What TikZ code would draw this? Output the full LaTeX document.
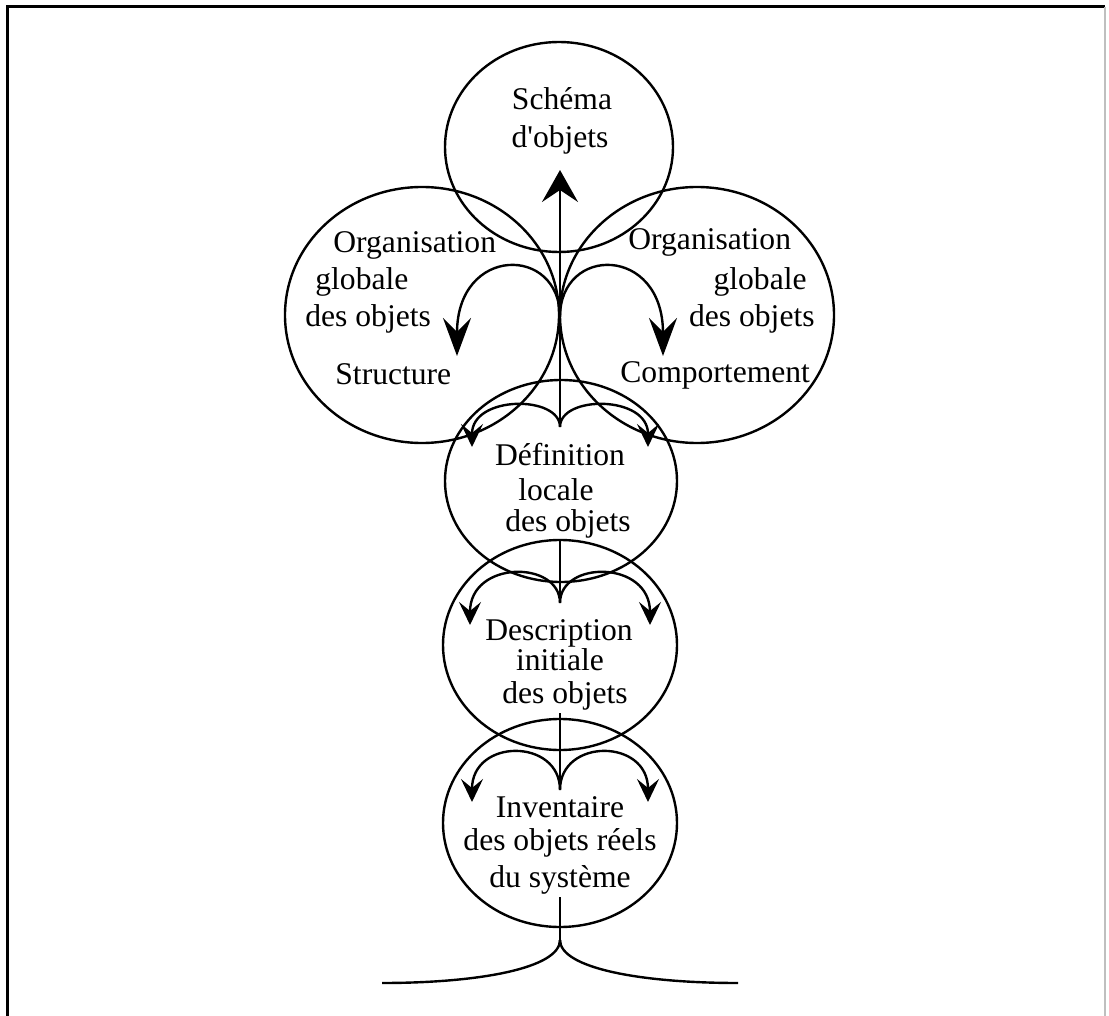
\documentclass[tikz,border=0pt]{standalone}
\usepackage{fontspec}
\newfontfamily\lbfont{Liberation Serif}
\usetikzlibrary{arrows.meta,shapes.geometric}
\begin{document}
\begin{tikzpicture}[x=0.5pt,y=-0.5pt,
  bubble/.style={draw, ellipse, line width=1.2pt, inner sep=0pt, outer sep=0pt},
  lbl/.style={font=\lbfont\fontsize{15.8}{18}\selectfont, inner sep=0pt, anchor=base},
  flow/.style={line width=1.2pt},
  upar/.style={flow, -{Stealth[length=16pt,width=18pt,inset=6pt]}},
  bigdown/.style={flow, -{Stealth[length=19pt,width=14pt,inset=7pt]}},
  smalldown/.style={flow, -{Stealth[length=11.5pt,width=11pt,inset=4.5pt]}},
]
\useasboundingbox (0,0) rectangle (1109,1016);
\fill[white] (0,0) rectangle (1109,1016);
% frame
\draw[line width=1.5pt] (7,1016) -- (7,7) -- (1105,7);
\draw[line width=0.8pt, gray!50] (1105,7) -- (1105,1016);

% circles
\node[bubble, minimum width=114pt, minimum height=105pt] (schema) at (559,147) {};
\node[bubble, minimum width=137pt, minimum height=128pt] (orgS) at (422,315) {};
\node[bubble, minimum width=137pt, minimum height=128pt] (orgC) at (697,315) {};
\node[bubble, minimum width=116pt, minimum height=101pt] (def) at (561,481) {};
\node[bubble, minimum width=117pt, minimum height=105pt] (desc) at (560,645) {};
\node[bubble, minimum width=117pt, minimum height=104pt] (inv) at (560,823) {};

% texts
\node[lbl] (tS1) at (562,110) {Schéma};
\node[lbl] (tS2) at (560,148) {d'objets};

\node[lbl, anchor=base west] (tL1) at (333,253) {Organisation};
\node[lbl, anchor=base west] (tL2) at (315,290) {globale};
\node[lbl, anchor=base west] (tL3) at (305,327) {des objets};
\node[lbl, anchor=base west] (tL4) at (335,385) {Structure};

\node[lbl, anchor=base west] (tR1) at (628,250) {Organisation};
\node[lbl, anchor=base east] (tR2) at (807,290) {globale};
\node[lbl, anchor=base east] (tR3) at (815,327) {des objets};
\node[lbl, anchor=base west] (tR4) at (620,383) {Comportement};

\node[lbl] (tD1) at (560,466) {Définition};
\node[lbl] (tD2) at (556,500) {locale};
\node[lbl] (tD3) at (568,531) {des objets};

\node[lbl] (tE1) at (559,640) {Description};
\node[lbl] (tE2) at (560,670) {initiale};
\node[lbl] (tE3) at (565,703) {des objets};

\node[lbl] (tI1) at (560,817) {Inventaire};
\node[lbl] (tI2) at (560,850) {des objets réels};
\node[lbl] (tI3) at (560,887) {du système};

% coordinates of the flow
\coordinate (footL) at (382,983);
\coordinate (footR) at (738,983);
\coordinate (root) at (560,940);
\coordinate (s1) at (560,897);
\coordinate (s2) at (560,713);
\coordinate (k2) at (560,790);
\coordinate (a2L) at (472,802);
\coordinate (a2R) at (648,802);
\coordinate (s3) at (560,539);
\coordinate (k3) at (560,603);
\coordinate (a3L) at (470,625);
\coordinate (a3R) at (650,625);
\coordinate (k4) at (560,427);
\coordinate (a4L) at (472,447);
\coordinate (a4R) at (648,447);
\coordinate (k5) at (560,317);
\coordinate (a5L) at (457,356);
\coordinate (a5R) at (663,356);
\coordinate (apex) at (560,170);

% base
\draw[flow] (footL) .. controls (480,983) and (560,968) .. (root);
\draw[flow] (footR) .. controls (640,983) and (560,968) .. (root);
\draw[flow] (root) -- (s1);
% inventaire level
\draw[flow] (s2) -- (k2);
\draw[smalldown] (k2) .. controls (560,738) and (472,738) .. (a2L);
\draw[smalldown] (k2) .. controls (560,738) and (648,738) .. (a2R);
% description level
\draw[flow] (s3) -- (k3);
\draw[smalldown] (k3) .. controls (560,560) and (470,560) .. (a3L);
\draw[smalldown] (k3) .. controls (560,560) and (650,560) .. (a3R);
% definition level
\draw[smalldown] (k4) .. controls (560,395) and (472,395) .. (a4L);
\draw[smalldown] (k4) .. controls (560,395) and (648,395) .. (a4R);
% organisation level
\draw[bigdown] (k5) .. controls (560,245) and (457,245) .. (a5L);
\draw[bigdown] (k5) .. controls (560,245) and (663,245) .. (a5R);
% main trunk
\draw[upar] (k4) -- (apex);
\end{tikzpicture}
\end{document}
